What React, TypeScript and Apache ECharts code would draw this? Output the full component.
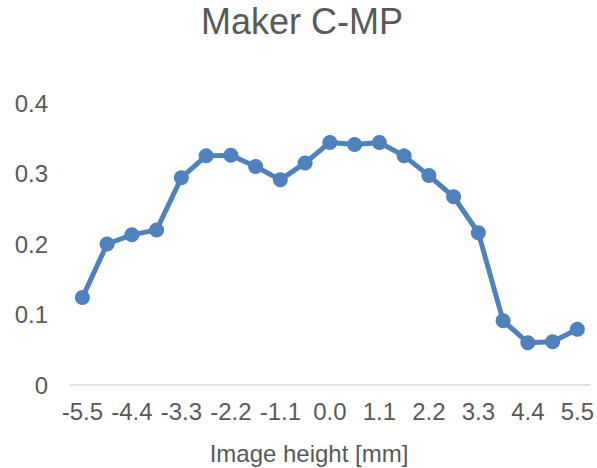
import React, { useEffect, useRef } from "react";
import * as echarts from "echarts";

// Image height positions [mm]
const positions: string[] = [
  "-5.5", "-4.95", "-4.4", "-3.85", "-3.3", "-2.75", "-2.2", "-1.65", "-1.1", "-0.55",
  "0.0", "0.55", "1.1", "1.65", "2.2", "2.75", "3.3", "3.85", "4.4", "4.95", "5.5",
];

// Measured MTF values
const mtfValues: number[] = [
  0.124, 0.2, 0.213, 0.22, 0.294, 0.325, 0.326, 0.31, 0.291, 0.315,
  0.344, 0.341, 0.344, 0.325, 0.297, 0.267, 0.216, 0.091, 0.06, 0.0615, 0.079,
];

const yTicks = { min: 0, max: 0.4, interval: 0.1 };

const FONT = "'Liberation Sans', Arial, sans-serif";
const TEXT = "#595959";
const BLUE = "#4f81bd";

export default function App() {
  const ref = useRef<HTMLDivElement>(null);

  useEffect(() => {
    if (!ref.current) return;
    const chart = echarts.init(ref.current, null, { renderer: "svg" });
    chart.setOption({
      animation: false,
      backgroundColor: "#ffffff",
      title: [
        {
          text: "Maker C-MP",
          left: 297,
          top: -2,
          textAlign: "center",
          textStyle: {
            fontFamily: FONT,
            fontSize: 36,
            fontWeight: "normal",
            color: TEXT,
          },
        },
        {
          // x-axis title, centred on the whole chart
          text: "Image height [mm]",
          left: 309,
          top: 441,
          padding: 0,
          textAlign: "center",
          textStyle: {
            fontFamily: FONT,
            fontSize: 24,
            fontWeight: "normal",
            color: TEXT,
          },
        },
      ],
      grid: { left: 70, right: 6, top: 103, bottom: 83, containLabel: false },
      xAxis: {
        type: "category",
        data: positions,
        boundaryGap: true,
        axisLine: { show: true, lineStyle: { color: "#d9d9d9", width: 1.5 } },
        axisTick: { show: false },
        axisLabel: {
          interval: 1,
          margin: 14,
          fontFamily: FONT,
          fontSize: 24,
          color: TEXT,
          formatter: (v: string) => Number(v).toFixed(1),
        },
        splitLine: { show: false },
      },
      yAxis: {
        type: "value",
        min: yTicks.min,
        max: yTicks.max,
        interval: yTicks.interval,
        axisLine: { show: false },
        axisTick: { show: false },
        splitLine: { show: false },
        axisLabel: {
          margin: 22,
          fontFamily: FONT,
          fontSize: 24,
          color: TEXT,
        },
      },
      series: [
        {
          type: "line",
          data: mtfValues,
          symbol: "circle",
          symbolSize: 15,
          lineStyle: { color: BLUE, width: 5 },
          itemStyle: { color: BLUE },
        },
      ],
    });
    return () => chart.dispose();
  }, []);

  return (
    <div
      ref={ref}
      style={{ position: "fixed", left: 0, top: 0, width: 597, height: 468, overflow: "hidden" }}
    />
  );
}
